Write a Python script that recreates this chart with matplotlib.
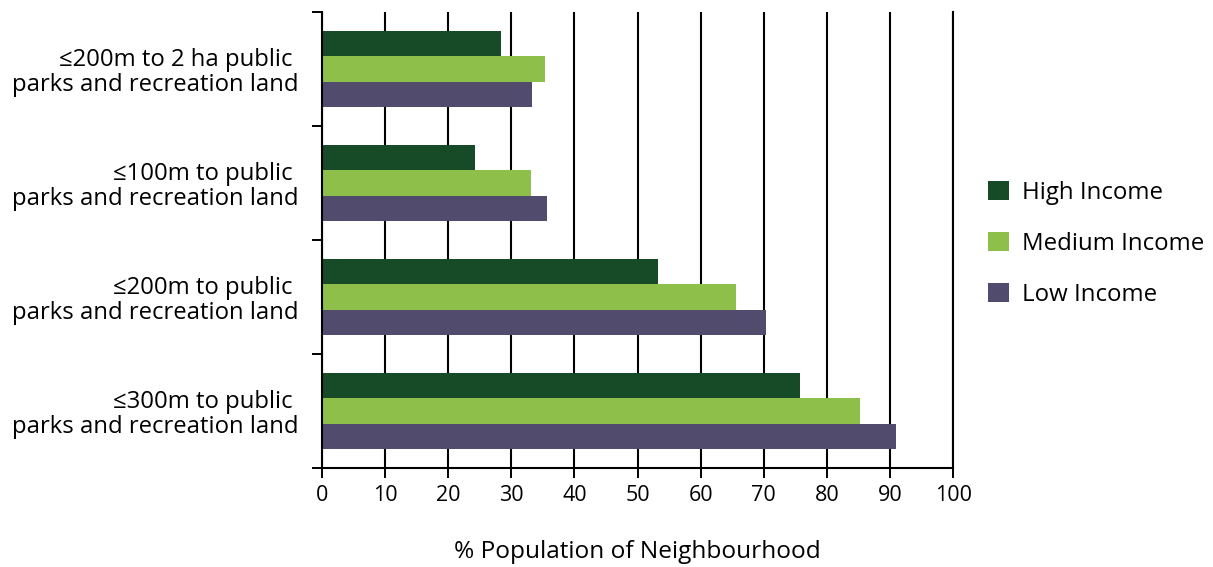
import matplotlib.pyplot as plt
import numpy as np

plt.rcParams['font.family'] = ['Open Sans', 'DejaVu Sans']

categories = [
    '≤200m to 2 ha public \nparks and recreation land',
    '≤100m to public \nparks and recreation land',
    '≤200m to public \nparks and recreation land',
    '≤300m to public \nparks and recreation land',
]
high_income = [28.4, 24.2, 53.2, 75.8]
medium_income = [35.3, 33.1, 65.6, 85.3]
low_income = [33.3, 35.7, 70.4, 91.0]

series = [
    ('High Income', high_income, '#174A26'),
    ('Medium Income', medium_income, '#8DBF4A'),
    ('Low Income', low_income, '#514C6D'),
]

fig = plt.figure(figsize=(12.13, 5.67), dpi=100)
ax = fig.add_axes([0.2655, 0.1746, 0.5202, 0.8042])

y = np.arange(len(categories))
h = 0.222
for k, (name, vals, col) in enumerate(series):
    ax.barh(y + (k - 1) * h, vals, height=h, color=col, label=name, zorder=3)

ax.set_xlim(0, 100)
ax.set_ylim(len(categories) - 0.5, -0.5)
ax.set_xticks(np.arange(0, 101, 10))
ax.set_yticks(y)
ax.set_yticklabels(categories, fontsize=17.2, linespacing=1.05)
ax.set_yticks(np.arange(-0.5, len(categories), 1), minor=True)

ax.tick_params(axis='y', which='major', length=0, pad=17)
ax.tick_params(axis='y', which='minor', length=7, width=1.4, direction='out', color='black')
ax.tick_params(axis='x', length=14, width=1.4, direction='inout', labelsize=15.5, pad=5)

ax.grid(axis='x', color='black', linewidth=1.5, zorder=0)
ax.spines['top'].set_visible(False)
for s in ['left', 'bottom', 'right']:
    ax.spines[s].set_linewidth(1.5)
    ax.spines[s].set_zorder(4)

ax.set_xlabel('% Population of Neighbourhood', fontsize=17.6, labelpad=25)

fig.legend(loc='center left', bbox_to_anchor=(0.797, 0.5697), frameon=False,
           fontsize=17.3, handlelength=0.85, handleheight=0.85, handletextpad=0.55,
           labelspacing=1.12)

fig.savefig('out.png', dpi=100)
